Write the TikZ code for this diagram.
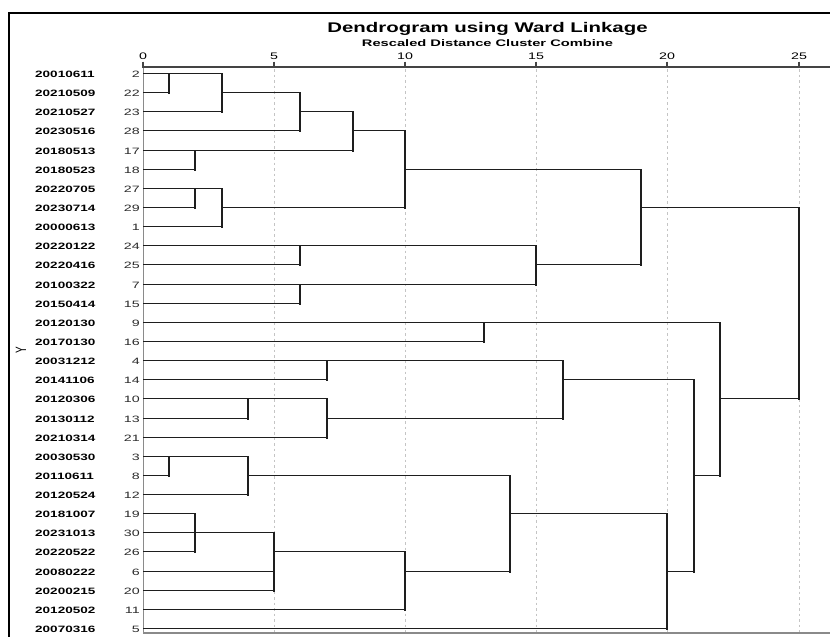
\documentclass[tikz,border=0pt]{standalone}
\usepackage{fontspec}
\setmainfont{Liberation Sans}
\definecolor{gridgray}{HTML}{C4C4C4}
\definecolor{axisgray}{HTML}{444444}
\definecolor{botgray}{HTML}{8A8A8A}
\definecolor{linegray}{HTML}{1E1E1E}
\definecolor{numgray}{HTML}{2A2A2A}
\tikzset{
  framestyle/.style={line width=2pt,black},
  axisline/.style={line width=1.2pt,axisgray},
  tickmark/.style={line width=2pt,axisgray},
  ticklabel/.style={anchor=base,font=\fontsize{9.5}{10}\selectfont,inner sep=0pt},
  gridline/.style={gridgray,line width=1pt,dash pattern=on 2.5pt off 3pt},
  bottomline/.style={line width=1.6pt,botgray},
  leftline/.style={line width=1pt,botgray},
  hl/.style={line width=1.2pt,linegray},
  vl/.style={line width=2pt,linegray,line cap=rect},
  datelabel/.style={anchor=base west,font=\bfseries\fontsize{9.2}{10}\selectfont,inner sep=0pt},
  numlabel/.style={anchor=base east,font=\fontsize{9.2}{10}\selectfont,text=numgray,inner sep=0pt},
}
\begin{document}
\begin{tikzpicture}[x=1pt,y=-1pt,
  declare function={px(\u)=round(143+26.22*\u); py(\r)=round(73+19.14*\r)+0.5;}]
\useasboundingbox (0,0) rectangle (830,637);
% frame
\draw[framestyle] (8.5,637) -- (8.5,12.5) -- (830,12.5);
% titles
\node[anchor=base,font=\bfseries\fontsize{14}{16}\selectfont,inner sep=0pt] (title) at (487.5,32.5) {\scalebox{1.458}[1]{Dendrogram using Ward Linkage}};
\node[anchor=base,font=\bfseries\fontsize{9.5}{11}\selectfont,inner sep=0pt] (subtitle) at (487.5,46) {\scalebox{1.544}[1]{Rescaled Distance Cluster Combine}};
% Y label
\node[rotate=90,font=\fontsize{10}{11}\selectfont,inner sep=0pt] (ylab) at (21,350) {\scalebox{1}[1.5]{Y}};
% grid
\foreach \v in {5,10,15,20,25}{\draw[gridline] ({px(\v)},69) -- ({px(\v)},632);}
% axes
\draw[axisline] (143,67) -- (830,67);
\draw[leftline] (143.5,67) -- (143.5,633);
\draw[bottomline] (143,633) -- (830,633);
\foreach \v in {0,5,10,15,20,25}{
  \draw[tickmark] ({px(\v)},61.5) -- ({px(\v)},67.5);
  \node[ticklabel] (t\v) at ({px(\v)},59) {\scalebox{1.5}[1]{\v}};
}
% leaf labels
\foreach \r/\d/\n in {0/20010611/2,1/20210509/22,2/20210527/23,3/20230516/28,4/20180513/17,5/20180523/18,6/20220705/27,7/20230714/29,8/20000613/1,9/20220122/24,10/20220416/25,11/20100322/7,12/20150414/15,13/20120130/9,14/20170130/16,15/20031212/4,16/20141106/14,17/20120306/10,18/20130112/13,19/20210314/21,20/20030530/3,21/20110611/8,22/20120524/12,23/20181007/19,24/20231013/30,25/20220522/26,26/20080222/6,27/20200215/20,28/20120502/11,29/20070316/5}{
  \node[datelabel] (d\r) at (35,{py(\r)+3.5}) {\scalebox{1.47}[1]{\d}};
  \node[numlabel] (n\r) at (140,{py(\r)+3.5}) {\scalebox{1.55}[1]{\n}};
}
% horizontal segments: row/from/to
\foreach \r/\a/\b in {0/0/3,1/0/1,1/3/6,2/0/3,2/6/8,3/0/6,3/8/10,4/0/8,5/0/2,5/10/19,6/0/3,7/0/2,7/3/10,7/19/25,8/0/3,9/0/15,10/0/6,10/15/19,11/0/15,12/0/6,13/0/22,14/0/13,15/0/16,16/0/7,16/16/21,17/0/7,17/22/25,18/0/4,18/7/16,19/0/7,20/0/4,21/0/1,21/4/14,21/21/22,22/0/4,23/0/2,23/14/20,24/0/5,25/0/2,25/5/10,26/0/5,26/10/14,26/20/21,27/0/5,28/0/10,29/0/20}{
  \draw[hl] ({px(\a)},{py(\r)}) -- ({px(\b)},{py(\r)});
}
% vertical segments: u/fromrow/torow
\foreach \u/\a/\b in {1/0/1,3/0/2,6/1/3,8/2/4,2/4/5,10/3/7,2/6/7,3/6/8,6/9/10,6/11/12,15/9/11,19/5/10,25/7/17,13/13/14,7/15/16,4/17/18,7/17/19,16/15/18,21/16/26,22/13/21,1/20/21,4/20/22,14/21/26,2/23/25,5/24/27,10/25/28,20/23/29}{
  \draw[vl] ({px(\u)},{py(\a)}) -- ({px(\u)},{py(\b)});
}
\end{tikzpicture}
\end{document}
